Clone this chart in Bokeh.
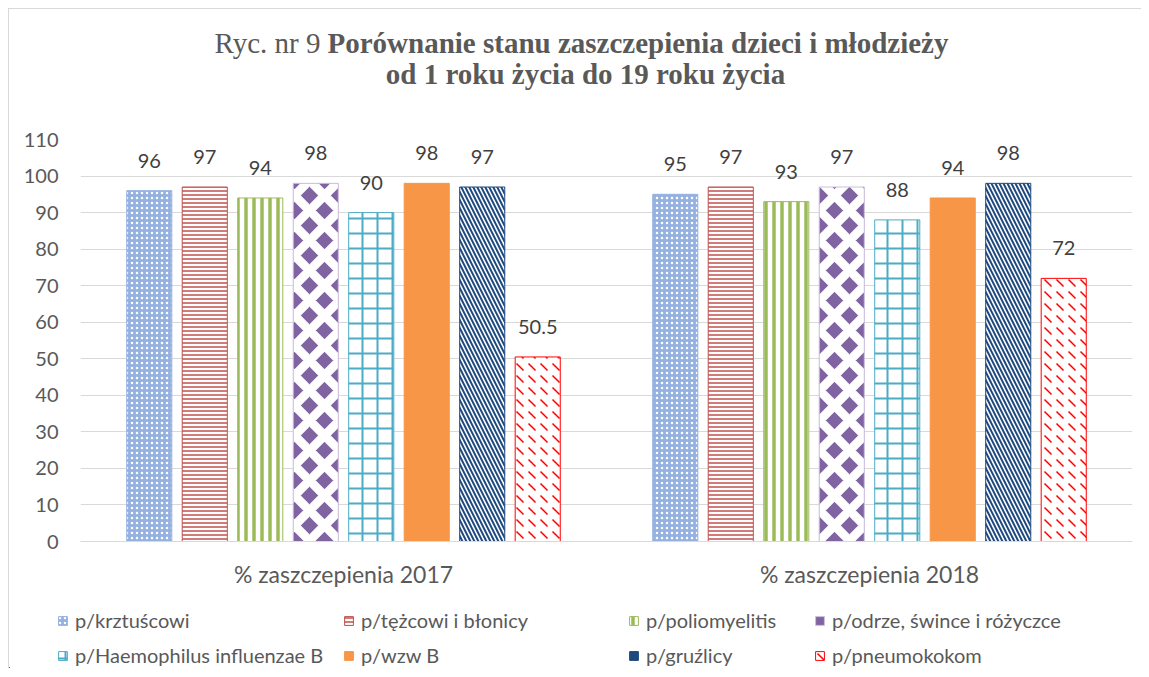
from bokeh.plotting import figure
from bokeh.layouts import column
from bokeh.models import (FactorRange, ColumnDataSource, Legend, LegendItem, Label,
                          Range1d, FixedTicker)
from bokeh.transform import dodge
from bokeh.core.properties import value
from bokeh.embed import file_html
from bokeh.resources import INLINE

# ---------------- data ----------------
categories = ["% zaszczepienia 2017", "% zaszczepienia 2018"]
series = ["p/krztuścowi", "p/tężcowi i błonicy", "p/poliomyelitis",
          "p/odrze, śwince i różyczce", "p/Haemophilus influenzae B", "p/wzw B",
          "p/gruźlicy", "p/pneumokokom"]
values_2017 = [96, 97, 94, 98, 90, 98, 97, 50.5]
values_2018 = [95, 97, 93, 97, 88, 94, 98, 72]
y_ticks = [0, 10, 20, 30, 40, 50, 60, 70, 80, 90, 100, 110]

title_normal = "Ryc. nr 9"
title_bold_1 = "Porównanie stanu zaszczepienia dzieci i młodzieży"
title_bold_2 = "od 1 roku życia do 19 roku życia"

# ---------------- styles ----------------
styles = [
    dict(fill_color="#95b1e0", line_color="#95b1e0", hatch_pattern="dot", hatch_color="white", hatch_scale=5, hatch_weight=1.5),
    dict(fill_color="white", line_color="#c0504d", hatch_pattern="horizontal_line", hatch_color="#c0504d", hatch_scale=4, hatch_weight=1.5),
    dict(fill_color="white", line_color="#9bbb59", hatch_pattern="vertical_line", hatch_color="#9bbb59", hatch_scale=8, hatch_weight=3.5),
    dict(fill_color="#8064a2", line_color="#ccc0da", hatch_pattern="diagonal_cross", hatch_color="white", hatch_scale=30, hatch_weight=9),
    dict(fill_color="white", line_color="#4bacc6", hatch_pattern="cross", hatch_color="#4bacc6", hatch_scale=15, hatch_weight=2),
    dict(fill_color="#f79646", line_color="#f79646"),
    dict(fill_color="white", line_color="#1f497d", hatch_pattern="left_diagonal_line", hatch_color="#1f497d", hatch_scale=8, hatch_weight=2),
    dict(fill_color="white", line_color="#ff0000", hatch_pattern="left_diagonal_dash", hatch_color="#ff0000", hatch_scale=12, hatch_weight=1.5),
]
# small swatches in the legend need simpler textures
legend_styles = [dict(s) for s in styles]
legend_styles[3] = dict(fill_color="#8064a2", line_color="#ccc0da")
legend_styles[6] = dict(fill_color="#1f497d", line_color="#1f497d")

FONT = "Lato"
SERIF = "Liberation Serif"
GRAY = "#595959"
W = 1132

# ---------------- title figure ----------------
tf = figure(width=W, height=111, x_range=Range1d(0, W), y_range=Range1d(0, 111),
            x_axis_type=None, y_axis_type=None, min_border=0,
            output_backend="svg", toolbar_location=None)
tf.frame_align = False
tf.outline_line_color = None
tf.grid.grid_line_color = None
bold_x = 318
tf.add_layout(Label(x=bold_x - 7, y=78, text=title_normal, text_align="right",
                    text_baseline="middle", text_font=SERIF, text_font_size="29px",
                    text_color=GRAY))
tf.add_layout(Label(x=bold_x, y=78, text=title_bold_1, text_align="left",
                    text_baseline="middle", text_font=SERIF, text_font_size="29px",
                    text_font_style="bold", text_color=GRAY))
tf.add_layout(Label(x=576, y=47, text=title_bold_2, text_align="center",
                    text_baseline="middle", text_font=SERIF, text_font_size="29px",
                    text_font_style="bold", text_color=GRAY))

# ---------------- main chart ----------------
p = figure(x_range=FactorRange(factors=categories, range_padding=0),
           y_range=Range1d(0, 110),
           width=W, height=470,
           output_backend="svg", toolbar_location=None,
           min_border_left=71, min_border_right=9,
           min_border_top=19, min_border_bottom=49)
p.frame_align = False
p.outline_line_color = None
p.xgrid.grid_line_color = None
p.ygrid.grid_line_color = "#d9d9d9"
p.ygrid.grid_line_width = 1

p.yaxis.ticker = FixedTicker(ticks=y_ticks)
p.yaxis.axis_line_color = None
p.yaxis.major_tick_line_color = None
p.yaxis.minor_tick_line_color = None
p.yaxis.major_tick_out = 0
p.yaxis.major_tick_in = 0
p.yaxis.major_label_standoff = 22
p.yaxis.major_label_text_font = FONT
p.yaxis.major_label_text_font_size = "20px"
p.yaxis.major_label_text_color = GRAY

p.xaxis.axis_line_color = "#d9d9d9"
p.xaxis.major_tick_line_color = None
p.xaxis.major_tick_out = 0
p.xaxis.major_tick_in = 0
p.xaxis.major_label_standoff = 18
p.xaxis.major_label_text_font = FONT
p.xaxis.major_label_text_font_size = "23px"
p.xaxis.major_label_text_color = GRAY

pitch = 0.1055
bar_w = 0.0857
for i, name in enumerate(series):
    vals = [values_2017[i], values_2018[i]]
    src = ColumnDataSource(dict(cat=categories, val=vals,
                                lab=[f"{v:g}" for v in vals]))
    off = (i - 3.5) * pitch
    p.vbar(x=dodge("cat", off, range=p.x_range), top="val", width=bar_w,
           bottom=0, source=src, line_width=1, **styles[i])
    p.text(x=dodge("cat", off, range=p.x_range), y="val", text="lab", source=src,
           text_align="center", text_baseline="alphabetic", y_offset=-30,
           text_font=value(FONT), text_font_size="20px", text_color="#404040")

# ---------------- legend figure ----------------
lf = figure(width=W, height=78, x_range=Range1d(0, W), y_range=Range1d(0, 78),
            x_axis_type=None, y_axis_type=None, min_border=0,
            output_backend="svg", toolbar_location=None)
lf.frame_align = False
lf.outline_line_color = None
lf.grid.grid_line_color = None
leg_renderers = []
for i, name in enumerate(series):
    # legend swatch proxies: one bar placed outside the visible range
    r = lf.vbar(x=[-100], top=[1], width=1, bottom=0, line_width=1, **legend_styles[i])
    leg_renderers.append(r)

col_x = [48, 334, 619, 805]
for j in range(4):
    items = [LegendItem(label=series[j], renderers=[leg_renderers[j]]),
             LegendItem(label=series[j + 4], renderers=[leg_renderers[j + 4]])]
    leg = Legend(items=items, location=(col_x[j], 0), orientation="vertical",
                 padding=0, margin=0, border_line_color=None,
                 background_fill_alpha=0, label_text_font=FONT,
                 label_text_font_size="20px", label_text_color=GRAY,
                 glyph_width=11, glyph_height=11, label_standoff=7,
                 spacing=9, label_height=26)
    lf.add_layout(leg)

layout = column(tf, p, lf, spacing=0,
                styles={"margin-left": "8px", "margin-top": "8px",
                        "border-left": "1px solid #d9d9d9",
                        "border-top": "1px solid #d9d9d9"})

open("out.html", "w").write(file_html(layout, INLINE))
